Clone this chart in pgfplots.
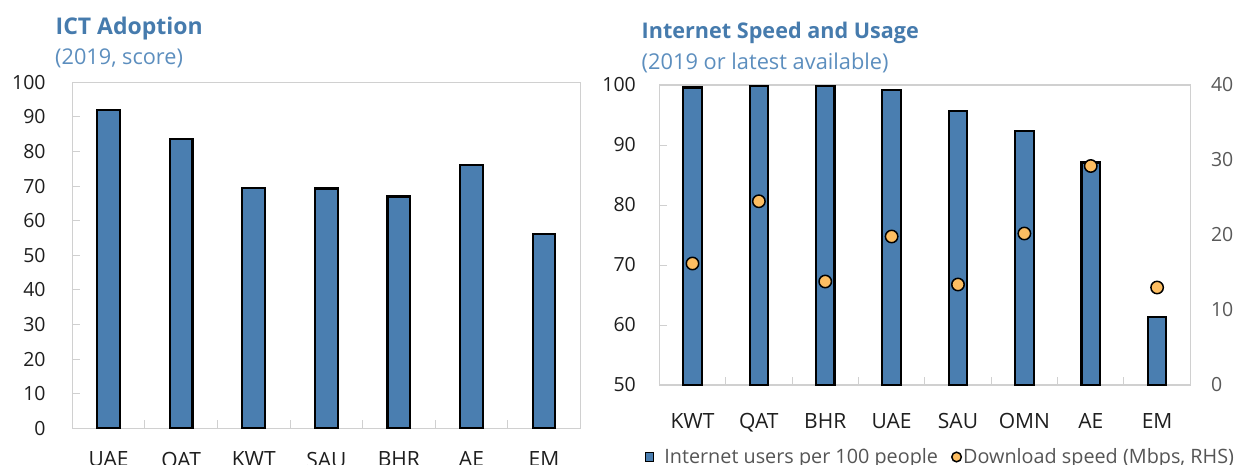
\documentclass[border=0pt]{standalone}
\usepackage{fontspec}
\setmainfont{Open Sans}
\usepackage{pgfplots}
\pgfplotsset{compat=1.18}
\definecolor{barblue}{RGB}{74,126,176}
\definecolor{titleblue}{RGB}{70,123,173}
\definecolor{subblue}{RGB}{92,142,190}
\definecolor{dotorange}{RGB}{253,190,98}
\definecolor{axisgray}{RGB}{208,208,208}
\definecolor{ticktext}{RGB}{30,30,30}
\definecolor{rhsgray}{RGB}{89,89,89}
\definecolor{legendgray}{RGB}{85,85,85}
\pgfplotsset{
  common/.style={
    scale only axis,
    anchor=south west,
    /pgf/number format/assume math mode=true,
    tick align=inside,
    major tick length=8pt,
    axis line style={axisgray, line width=1.3pt},
    tick style={axisgray, line width=1pt},
    every tick label/.append style={font=\fontsize{19.5}{22}\selectfont, text=ticktext},
    xticklabels={},
  },
}
\begin{document}
\begin{tikzpicture}[x=1pt,y=1pt]
% titles
\node[anchor=base west, inner sep=0, text=titleblue, font=\fontsize{23}{26}\selectfont\bfseries] at (55.5,-34.3) {ICT Adoption};
\node[anchor=base west, inner sep=0, text=subblue, font=\fontsize{21.7}{26}\selectfont] at (55,-64.3) {(2019, score)};
\node[anchor=base west, inner sep=0, text=titleblue, font=\fontsize{21.6}{26}\selectfont\bfseries] at (641.5,-39) {Internet Speed and Usage};
\node[anchor=base west, inner sep=0, text=subblue, font=\fontsize{21.8}{26}\selectfont] at (641.5,-69.3) {(2019 or latest available)};

% left chart
\begin{axis}[common,
  at={(72.3pt,-428.3pt)},
  width=508pt, height=346pt,
  xmin=-0.5, xmax=6.5, ymin=0, ymax=100,
  ytick={0,10,...,100},
  xtick={0.5,1.5,...,5.5},
  extra x ticks={0,1,2,3,4,5,6},
  extra x tick labels={UAE,QAT,KWT,SAU,BHR,AE,EM},
  extra x tick style={major tick length=0pt, xticklabel style={anchor=north, inner sep=0pt, yshift=-23.4pt, font=\fontsize{21}{24}\selectfont}},
  xtick pos=bottom, ytick pos=left,
  yticklabel style={anchor=east, inner sep=0pt, xshift=-26.5pt},
]
\addplot[ybar, bar width=22.7pt, bar shift=0pt, fill=barblue, draw=black, line width=2.2pt]
  coordinates {(0,91.9) (1,83.7) (2,69.5) (3,69.3) (4,67.0) (5,76.0) (6,56.1)};
\end{axis}

% right chart: bars
\begin{axis}[common,
  at={(659.3pt,-385pt)},
  width=531pt, height=300pt,
  xmin=-0.5, xmax=7.5, ymin=50, ymax=100,
  ytick={50,60,...,100},
  xtick={0.5,1.5,...,6.5},
  extra x ticks={0,1,2,3,4,5,6,7},
  extra x tick labels={KWT,QAT,BHR,UAE,SAU,OMN,AE,EM},
  extra x tick style={major tick length=0pt, xticklabel style={anchor=north, inner sep=0pt, yshift=-28.3pt, font=\fontsize{21}{24}\selectfont}},
  xtick pos=bottom, ytick pos=left,
  yticklabel style={anchor=east, inner sep=0pt, xshift=-23.3pt},
  legend columns=2,
  legend style={at={(-0.0282,-0.24)}, anchor=west, draw=none, fill=none, inner sep=0pt,
    font=\fontsize{19.8}{22}\selectfont, text=legendgray,
    nodes={inner sep=1pt},
    /tikz/every even column/.append style={column sep=12pt}},
]
\addplot[ybar, bar width=18.5pt, bar shift=0pt, fill=barblue, draw=black, line width=2.2pt,
  legend image code/.code={\draw[fill=barblue, draw=black, line width=1.5pt] (0pt,-4.4pt) rectangle (8.4pt,4.4pt); \path (17pt,0pt);}]
  coordinates {(0,99.6) (1,99.8) (2,99.8) (3,99.2) (4,95.7) (5,92.3) (6,87.1) (7,61.4)};
\addlegendentry{Internet users per 100 people}
\addlegendimage{legend image code/.code={\draw[fill=dotorange, draw=black, line width=1.5pt] (4.8pt,0pt) circle (4.8pt);}}
\addlegendentry{Download speed (Mbps, RHS)}
\end{axis}

% right chart: dots on RHS
\begin{axis}[
  scale only axis, anchor=south west,
  /pgf/number format/assume math mode=true,
  at={(659.3pt,-385pt)},
  width=531pt, height=300pt,
  xmin=-0.5, xmax=7.5, ymin=0, ymax=40,
  ytick={0,10,...,40}, xtick=\empty,
  axis line style={draw=none},
  major tick length=0pt,
  ytick pos=right, yticklabel pos=right,
  yticklabel style={anchor=west, inner sep=0pt, xshift=20.5pt, text=rhsgray, font=\fontsize{19.5}{22}\selectfont},
]
\addplot[only marks, mark=*, mark size=6.2pt, mark options={fill=dotorange, draw=black, line width=1.5pt}]
  coordinates {(0,16.2) (1,24.5) (2,13.8) (3,19.8) (4,13.4) (5,20.2) (6,29.2) (7,13.0)};
\end{axis}

\pgfresetboundingbox
\path[use as bounding box] (0,-465) rectangle (1238,0);
\end{tikzpicture}
\end{document}
